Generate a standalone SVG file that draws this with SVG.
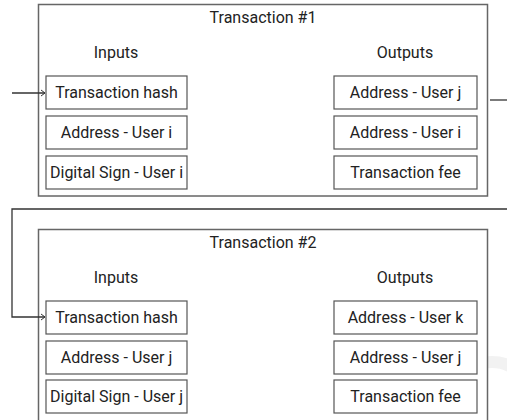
<svg xmlns="http://www.w3.org/2000/svg" width="507" height="420" viewBox="0 0 507 420">
<defs>
<style>
.outer{fill:#fff;stroke:#666;stroke-width:1.5}
.cell{fill:#fff;stroke:#555;stroke-width:1.2}
.t{font-family:Roboto,"Liberation Sans",sans-serif;font-size:16px;fill:#222;text-anchor:middle}
.conn{fill:none;stroke:#333;stroke-width:1.3}
</style>
<marker id="arr" markerWidth="8" markerHeight="8" refX="6" refY="4" orient="auto" markerUnits="userSpaceOnUse">
<path d="M2,1 L6,4 L2,7" fill="none" stroke="#333" stroke-width="1"/>
</marker>
</defs>
<circle cx="492" cy="402" r="40" fill="none" stroke="#f2f2f2" stroke-width="12"/>
<g id="tx1">
<rect class="outer" x="38.5" y="4.5" width="449" height="191.5"/>
<text class="t" x="263" y="23">Transaction #1</text>
<text class="t" x="116" y="58">Inputs</text>
<text class="t" x="405" y="58">Outputs</text>
<g id="tx1-in-hash"><rect class="cell" x="46" y="76" width="141" height="33"/><text class="t" x="116.5" y="98">Transaction hash</text></g>
<g id="tx1-in-addr"><rect class="cell" x="46" y="116" width="141" height="33"/><text class="t" x="116.5" y="138">Address - User i</text></g>
<g id="tx1-in-sign"><rect class="cell" x="46" y="156" width="141" height="33"/><text class="t" x="116.5" y="178">Digital Sign - User i</text></g>
<g id="tx1-out-j"><rect class="cell" x="334" y="76" width="143" height="33"/><text class="t" x="405.5" y="98">Address - User j</text></g>
<g id="tx1-out-i"><rect class="cell" x="334" y="116" width="143" height="33"/><text class="t" x="405.5" y="138">Address - User i</text></g>
<g id="tx1-out-fee"><rect class="cell" x="334" y="156" width="143" height="33"/><text class="t" x="405.5" y="178">Transaction fee</text></g>
</g>
<g id="tx2">
<rect class="outer" x="38.5" y="229.5" width="449" height="200"/>
<text class="t" x="263" y="248">Transaction #2</text>
<text class="t" x="116" y="283">Inputs</text>
<text class="t" x="405" y="283">Outputs</text>
<g id="tx2-in-hash"><rect class="cell" x="46" y="301" width="141" height="33"/><text class="t" x="116.5" y="323">Transaction hash</text></g>
<g id="tx2-in-addr"><rect class="cell" x="46" y="341" width="141" height="33"/><text class="t" x="116.5" y="363">Address - User j</text></g>
<g id="tx2-in-sign"><rect class="cell" x="46" y="380" width="141" height="33"/><text class="t" x="116.5" y="402">Digital Sign - User j</text></g>
<g id="tx2-out-k"><rect class="cell" x="334" y="301" width="143" height="33"/><text class="t" x="405.5" y="323">Address - User k</text></g>
<g id="tx2-out-j"><rect class="cell" x="334" y="341" width="143" height="33"/><text class="t" x="405.5" y="363">Address - User j</text></g>
<g id="tx2-out-fee"><rect class="cell" x="334" y="380" width="143" height="33"/><text class="t" x="405.5" y="402">Transaction fee</text></g>
</g>
<g id="connectors">
<path class="conn" d="M12,93 H45" marker-end="url(#arr)"/>
<path class="conn" d="M490,100 H507"/>
<path class="conn" d="M507,209 H12 V317 H45" marker-end="url(#arr)"/>
</g>
</svg>
